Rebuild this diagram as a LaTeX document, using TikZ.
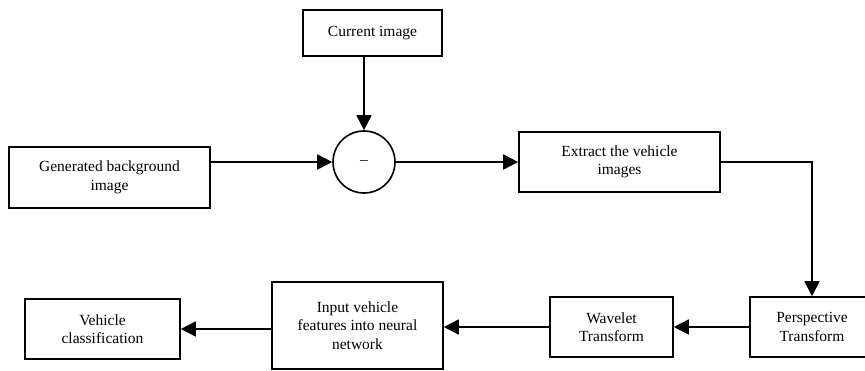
\documentclass[tikz,border=0pt]{standalone}
\usepackage{fontspec}
\setmainfont{Liberation Serif}
\usetikzlibrary{arrows.meta}
\begin{document}
\begin{tikzpicture}[x=1pt,y=-1pt,
  box/.style={draw,line width=1.6pt,align=center,inner sep=0pt,font=\fontsize{15.5}{18.5}\selectfont},
  conn/.style={line width=1.6pt,-{Triangle[length=15pt,width=15pt]}}]
\useasboundingbox (0,0) rectangle (865,370);
\node[box,minimum width=139pt,minimum height=46pt] (cur) at (372.5,33) {Current image};
\node[box,minimum width=201pt,minimum height=61pt] (gen) at (109.5,177.5) {Generated background\\image};
\node[box,circle,minimum size=62pt] (sub) at (364,162) {\raisebox{-3pt}{–}};
\node[box,minimum width=201pt,minimum height=60pt] (ext) at (619.5,162) {Extract the vehicle\\images};
\node[box,minimum width=124pt,minimum height=60pt] (per) at (812,327) {Perspective\\Transform};
\node[box,minimum width=123pt,minimum height=60pt] (wav) at (611.5,327) {Wavelet\\Transform};
\node[box,minimum width=171pt,minimum height=87pt] (inp) at (357.5,325.5) {Input vehicle\\features into neural\\network};
\node[box,minimum width=155pt,minimum height=60pt] (veh) at (102.5,329) {Vehicle\\classification};
\draw[conn] (gen.east |- sub) -- (sub);
\draw[conn] (cur.south -| sub) -- (sub);
\draw[conn] (sub) -- (ext);
\draw[conn] (ext.east) -| (per.north);
\draw[conn] (per) -- (wav);
\draw[conn] (wav.west) -- (inp.east |- wav);
\draw[conn] (inp.west |- veh) -- (veh);
\end{tikzpicture}
\end{document}
